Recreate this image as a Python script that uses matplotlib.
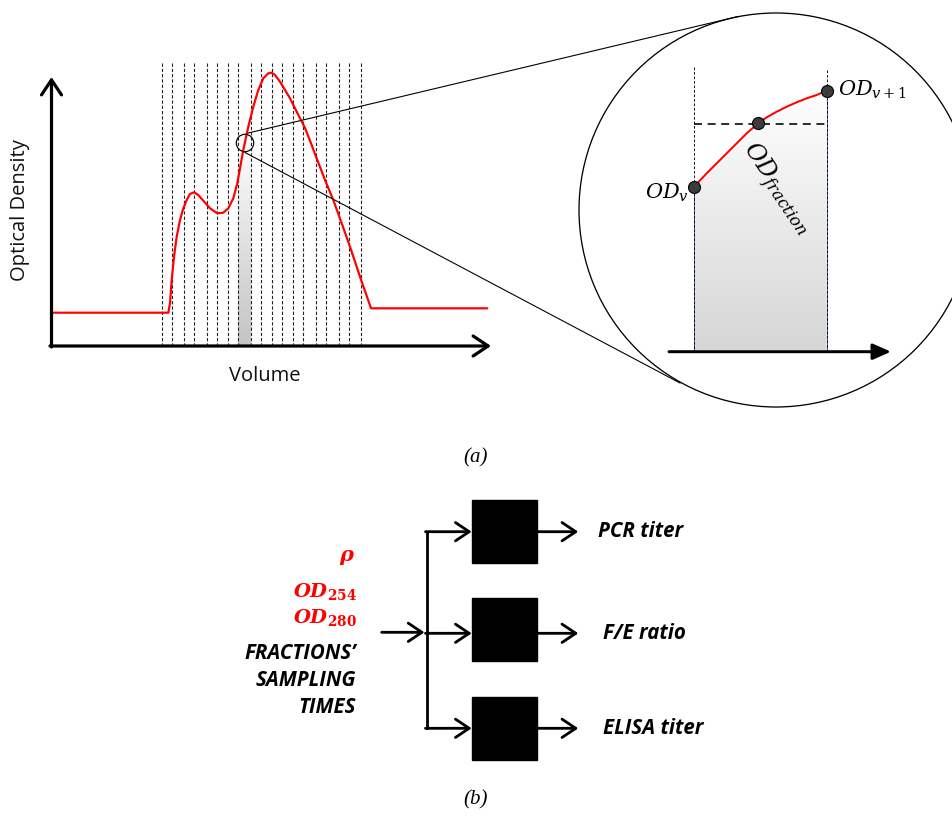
import matplotlib.pyplot as plt
import numpy as np
from matplotlib.colors import LinearSegmentedColormap
from matplotlib.patches import Circle, Polygon, Rectangle

plt.rcParams['mathtext.fontset'] = 'custom'
plt.rcParams['mathtext.rm'] = 'DejaVu Serif'
plt.rcParams['mathtext.it'] = 'DejaVu Serif:italic'
plt.rcParams['mathtext.bf'] = 'DejaVu Serif:bold'
plt.rcParams['mathtext.sf'] = 'DejaVu Serif:bold:italic'

# elution profile (pixel coords of the sketch)
profile_x = [51.7, 168.3, 170, 171.7, 174, 176.7, 180, 183.3, 186.7, 190, 194,
             198.3, 203.3, 210, 217.3, 223.3, 228.3, 233.3, 237.3, 240, 243.3,
             248.3, 253.3, 258.3, 263.3, 268.3, 271.7, 275, 280, 285, 290, 295,
             300, 305, 311.7, 315, 325, 333.3, 341.7, 350, 360, 371, 487.3]
profile_y = [312.7, 312.7, 303.3, 280, 256.7, 236.7, 220, 208.3, 200, 194, 192.3,
             195, 200.7, 208.3, 213.3, 212.7, 208.3, 198.3, 183.3, 168.3, 150,
             126.7, 106.7, 90, 78.3, 73.3, 72.7, 75, 81.7, 90, 98.3, 108.3,
             118.3, 128, 145, 154, 180, 200, 223.3, 246.7, 276.7, 308.3, 308.3]

# fraction cut positions
cuts_x = [162.3, 172, 184.3, 194.3, 206.7, 217, 228.3, 238, 250.7, 261, 272,
          282, 293.3, 303.3, 315.7, 325.7, 339, 349, 361]

# zoomed fraction
zoom_x = [693.5, 706.7, 720, 733.3, 746.7, 758.3, 766.7, 776.7, 786.7, 796.7,
          806.7, 816.7, 826.7]
zoom_y = [187.3, 173.3, 160, 146.7, 133.3, 123.3, 117.3, 111.7, 106.7, 102.3,
          98.3, 95, 90.5]
dots_x = [693.5, 758.3, 826.7]
dots_y = [187.3, 123.3, 90.5]

# block diagram
box_tops = [500, 598.3, 697.3]
branch_y = [531.7, 633.3, 728.3]
outputs = ['PCR titer', 'F/E ratio', 'ELISA titer']
output_x = [598.3, 602.7, 602.7]
inputs_black = ['FRACTIONS’', 'SAMPLING', 'TIMES']
inputs_black_y = [653.3, 680, 707.7]

fig = plt.figure(figsize=(9.52, 8.18), dpi=100)
ax = fig.add_axes([0, 0, 1, 1])
px = 72 / 100  # points per pixel

sans = 'Open Sans'

def arrow(x0, y0, x1, y1, lw=2.8, style='->,head_length=0.45,head_width=0.3', ms=22):
    ax.annotate('', xy=(x1, y1), xytext=(x0, y0),
                arrowprops=dict(arrowstyle=style, lw=lw * px, color='black',
                                shrinkA=0, shrinkB=0, mutation_scale=ms))

grad = np.linspace(0, 1, 256).reshape(-1, 1)

# ---- (a) left: chromatogram ----
ax.imshow(grad, extent=[238, 250.7, 346, 135], origin='upper',
          cmap=LinearSegmentedColormap.from_list('g', ['#ffffff', '#c4c4c4']),
          aspect='auto', zorder=1)

for x in cuts_x:
    ax.plot([x, x], [63, 346], color='#222222', lw=1.1 * px, ls=(0, (3, 1.8)), zorder=2)

ax.plot(profile_x, profile_y, color='red', lw=2.2 * px, zorder=3,
        solid_joinstyle='round', solid_capstyle='round')

arrow(51.5, 347, 51.5, 77, lw=3.2, ms=24)
arrow(50, 346, 491, 346, lw=3.2, ms=24)

ax.text(20, 210, 'Optical Density', rotation=90, ha='center', va='center',
        fontsize=14.5, family=sans, color='#111111')
ax.text(265, 376, 'Volume', ha='center', va='center', fontsize=14.5,
        family=sans, color='#111111')

ax.add_patch(Circle((245, 143), 8.7, fill=False, lw=1.2 * px, color='black', zorder=4))
ax.plot([248.3, 738], [133, 16.5], color='black', lw=1.1 * px, zorder=4)
ax.plot([245, 680], [152.5, 383], color='black', lw=1.1 * px, zorder=4)

# ---- (a) right: zoom circle ----
ax.add_patch(Circle((776, 210), 197, fill=False, lw=1.3 * px, color='black', zorder=4))

fill_poly = Polygon(list(zip(zoom_x, zoom_y)) + [(826.7, 350), (693.5, 350)],
                    closed=True, facecolor='none', edgecolor='none')
ax.add_patch(fill_poly)
shade = ax.imshow(grad, extent=[693.5, 826.7, 350, 88], origin='upper',
                  cmap=LinearSegmentedColormap.from_list('g2', ['#ffffff', '#d6d6d6']),
                  aspect='auto', zorder=1)
shade.set_clip_path(fill_poly)

ax.plot([693.5, 693.5], [187.3, 350], color='#4a6fb5', lw=1.0 * px, zorder=2)
ax.plot([826.7, 826.7], [90.5, 350], color='#4a6fb5', lw=1.0 * px, zorder=2)
ax.plot([693.5, 693.5], [66.7, 350], color='black', lw=0.9 * px, ls=(0, (3, 2)), zorder=2)
ax.plot([826.7, 826.7], [70, 350], color='black', lw=0.9 * px, ls=(0, (3, 2)), zorder=2)
ax.plot([693.5, 826.7], [124.3, 124.3], color='black', lw=1.6 * px, ls=(0, (5, 3.5)), zorder=2)

ax.plot(zoom_x, zoom_y, color='red', lw=2.0 * px, zorder=3, solid_capstyle='round',
        solid_joinstyle='round')
ax.plot(dots_x, dots_y, 'o', ms=12 * px, mfc='#3c3c3c', mec='black', mew=0.8, zorder=5)

arrow(669, 351.7, 891, 351.7, lw=3.0, style='-|>,head_length=0.5,head_width=0.22', ms=22)

ax.text(689, 193, r'$OD_v$', ha='right', va='center', fontsize=15)
ax.text(838, 90, r'$OD_{v+1}$', ha='left', va='center', fontsize=15)
ax.text(747, 146, r'$OD_{fraction}$', rotation=-56, rotation_mode='anchor',
        ha='left', va='center', fontsize=17)

ax.text(476, 458, '(a)', ha='center', va='center', fontsize=15,
        family='Liberation Serif', style='italic')

# ---- (b) block diagram ----
for top in box_tops:
    ax.add_patch(Rectangle((471.7, top), 65, 63, facecolor='black',
                           edgecolor='black', zorder=2))

ax.plot([426.7, 426.7], [531.7, 728.3], color='black', lw=2.8 * px)
arrow(381.7, 632.3, 424.5, 632.3)
for y in branch_y:
    arrow(425.5, y, 471.7, y)
    arrow(536.7, y, 578.3, y)

for lab, x, y in zip(outputs, output_x, branch_y):
    ax.text(x, y, lab, ha='left', va='center', fontsize=14.8, family=sans,
            weight='bold', style='italic', color='black')

ax.text(346, 555, 'ρ', ha='center', va='center', fontsize=15, color='red',
        family='DejaVu Serif', weight='bold', style='italic')
ax.text(357, 592, r'$\mathsf{OD}_{\mathbf{254}}$', ha='right', va='center',
        fontsize=14, color='red')
ax.text(357, 618, r'$\mathsf{OD}_{\mathbf{280}}$', ha='right', va='center',
        fontsize=14, color='red')
for lab, y in zip(inputs_black, inputs_black_y):
    ax.text(356, y, lab, ha='right', va='center', fontsize=14.8, family=sans,
            weight='bold', style='italic', color='black')

ax.text(476, 800, '(b)', ha='center', va='center', fontsize=15,
        family='Liberation Serif', style='italic')

ax.set_xlim(0, 952)
ax.set_ylim(818, 0)
ax.axis('off')
fig.savefig('out.png', dpi=100)
